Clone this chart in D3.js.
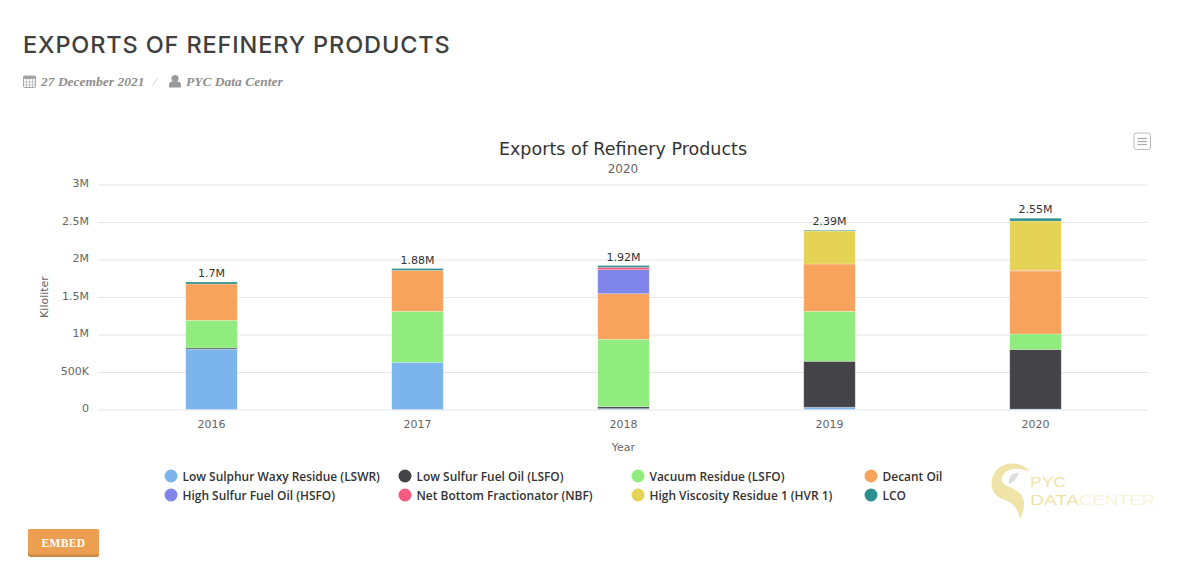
<!DOCTYPE html>
<html>
<head>
<meta charset="utf-8">
<script src="https://cdnjs.cloudflare.com/ajax/libs/d3/7.8.5/d3.min.js"></script>
<style>
  html, body { margin: 0; padding: 0; background: #fff; overflow: hidden; }
  svg { display: block; }
  text { font-family: "DejaVu Sans", sans-serif; }
  .grid line { stroke: #e6e6e6; }
  .tick text { fill: #666; font-size: 11px; }
</style>
</head>
<body>
<svg width="1177" height="563"></svg>
<script>
var years = ['2016', '2017', '2018', '2019', '2020'];

var seriesNames = [
  'Low Sulphur Waxy Residue (LSWR)', 'Low Sulfur Fuel Oil (LSFO)', 'Vacuum Residue (LSFO)', 'Decant Oil',
  'High Sulfur Fuel Oil (HSFO)', 'Net Bottom Fractionator (NBF)', 'High Viscosity Residue 1 (HVR 1)', 'LCO'
];
var seriesColors = ['#7cb5ec', '#434348', '#90ed7d', '#f7a35c', '#8085e9', '#f15c80', '#e4d354', '#2b908f'];

// kiloliter
var lswr = [805000, 630000, 12000, 30000, 6000];
var lsfo = [15000, 0, 25000, 613000, 794000];
var vacuum = [369000, 679000, 899000, 666000, 207000];
var decant = [484000, 547000, 608000, 631000, 840000];
var hsfo = [0, 0, 320000, 0, 0];
var nbf = [0, 0, 32000, 0, 8000];
var hvr = [0, 0, 0, 440000, 658000];
var lco = [27000, 24000, 24000, 10000, 37000];

var yTicks = [0, 500000, 1000000, 1500000, 2000000, 2500000, 3000000];
var yLabels = ['0', '500K', '1M', '1.5M', '2M', '2.5M', '3M'];
var totalLabels = ['1.7M', '1.88M', '1.92M', '2.39M', '2.55M'];

var allSeries = [lswr, lsfo, vacuum, decant, hsfo, nbf, hvr, lco];

var svg = d3.select('svg');

// page header
svg.append('text')
   .attr('x', 23).attr('y', 53)
   .attr('font-size', 23.5)
   .attr('font-weight', 500)
   .attr('letter-spacing', 0.87)
   .attr('fill', '#3f4040')
   .style('font-family', 'Inter, Lato, sans-serif')
   .text('EXPORTS OF REFINERY PRODUCTS');

var meta = svg.append('g').attr('fill', '#999');
// calendar icon
meta.append('rect').attr('x', 23.5).attr('y', 76).attr('width', 12).attr('height', 11.5).attr('rx', 1)
    .attr('fill', 'none').attr('stroke', '#a5a5a5');
meta.append('rect').attr('x', 23.5).attr('y', 76).attr('width', 12).attr('height', 3).attr('fill', '#a5a5a5');
[26, 29, 32].forEach(function(x) {
  meta.append('line').attr('x1', x + 0.5).attr('x2', x + 0.5).attr('y1', 79).attr('y2', 87).attr('stroke', '#c4c4c4');
});
[82, 85].forEach(function(y) {
  meta.append('line').attr('x1', 24).attr('x2', 35).attr('y1', y).attr('y2', y).attr('stroke', '#c4c4c4');
});
// person icon
meta.append('circle').attr('cx', 175).attr('cy', 78.5).attr('r', 3.6);
meta.append('path').attr('d', 'M169 87.5v-2.5q0-3.5 3.5-3.5h5q3.5 0 3.5 3.5v2.5z');

var metaStyle = function(sel) {
  sel.attr('y', 86).attr('font-size', 13.5).attr('font-weight', 'bold').attr('font-style', 'italic')
     .attr('fill', '#8f8f8f').style('font-family', '"Liberation Serif", serif');
};
meta.append('text').attr('x', 41).call(metaStyle).text('27 December 2021');
meta.append('text').attr('x', 153).call(metaStyle).attr('fill', '#ccc').attr('font-weight', 'normal').text('/');
meta.append('text').attr('x', 186).call(metaStyle).text('PYC Data Center');

// chart titles
svg.append('text')
   .attr('x', 623).attr('y', 155)
   .attr('text-anchor', 'middle')
   .attr('font-size', 17.5)
   .attr('fill', '#333')
   .text('Exports of Refinery Products');

svg.append('text')
   .attr('x', 623).attr('y', 173)
   .attr('text-anchor', 'middle')
   .attr('font-size', 12)
   .attr('fill', '#666')
   .text('2020');

// export button
var menu = svg.append('g');
menu.append('rect').attr('x', 1134).attr('y', 133).attr('width', 16.5).attr('height', 16.5).attr('rx', 2.5)
    .attr('fill', '#fff').attr('stroke', '#bbb');
[138, 141, 144].forEach(function(y) {
  menu.append('line').attr('x1', 1137.5).attr('x2', 1147).attr('y1', y + 0.5).attr('y2', y + 0.5)
      .attr('stroke', '#aaa').attr('stroke-width', 1.2);
});

var xScale = d3.scaleBand()
               .domain(years)
               .range([108.5, 1138.5])
               .paddingInner(0.75)
               .paddingOuter(0.375);

var yScale = d3.scaleLinear()
               .domain([0, 3000000])
               .range([409.5, 184.5]);

var rows = years.map(function(year, i) {
  var row = { year: year };
  allSeries.forEach(function(values, s) { row[s] = values[i]; });
  return row;
});

var stacked = d3.stack().keys(d3.range(allSeries.length))(rows);

// grid
var yAxis = d3.axisLeft(yScale)
              .tickValues(yTicks)
              .tickSize(-1050)
              .tickPadding(9)
              .tickFormat(function(d, i) { return yLabels[i]; });

svg.append('g')
   .attr('class', 'grid')
   .attr('transform', 'translate(98, 0)')
   .call(yAxis)
   .call(function(g) {
     g.select('.domain').remove();
     g.selectAll('text').attr('dy', '0.22em');
   });

var xAxis = d3.axisBottom(xScale).tickSize(0).tickPadding(11);

svg.append('g')
   .attr('class', 'x-axis')
   .attr('transform', 'translate(0, 409.5)')
   .call(xAxis)
   .call(function(g) { g.select('.domain').remove(); });

svg.append('text')
   .attr('transform', 'translate(48, 297) rotate(-90)')
   .attr('text-anchor', 'middle')
   .attr('font-size', 11)
   .attr('fill', '#666')
   .text('Kiloliter');

svg.append('text')
   .attr('x', 623.5).attr('y', 451)
   .attr('text-anchor', 'middle')
   .attr('font-size', 11)
   .attr('fill', '#666')
   .text('Year');

// bars
var layers = svg.selectAll('.layer')
  .data(stacked)
  .enter()
  .append('g')
    .classed('layer', true)
    .attr('fill', function(d, i) { return seriesColors[i]; });

layers.selectAll('rect')
  .data(function(d) { return d.filter(function(v) { return v[1] > v[0]; }); })
  .enter()
  .append('rect')
    .attr('x', function(d) { return xScale(d.data.year); })
    .attr('width', xScale.bandwidth())
    .attr('y', function(d) { return yScale(d[1]); })
    .attr('height', function(d) { return yScale(d[0]) - yScale(d[1]); })
    .attr('stroke', 'rgba(255,255,255,0.3)')
    .attr('stroke-width', 0.8);

// totals above the stacks
svg.selectAll('.total')
  .data(years)
  .enter()
  .append('text')
    .classed('total', true)
    .attr('x', function(d) { return xScale(d) + xScale.bandwidth() / 2; })
    .attr('y', function(d, i) {
      return yScale(d3.sum(allSeries, function(values) { return values[i]; })) - 5;
    })
    .attr('text-anchor', 'middle')
    .attr('font-size', 11)
    .attr('fill', '#333')
    .text(function(d, i) { return totalLabels[i]; });

// legend
var legendX = [171, 405, 638, 871];
var legendY = [476, 495];

var legend = svg.selectAll('.legend-item')
  .data(seriesNames)
  .enter()
  .append('g')
    .classed('legend-item', true)
    .attr('transform', function(d, i) {
      return 'translate(' + legendX[i % 4] + ',' + legendY[Math.floor(i / 4)] + ')';
    });

legend.append('circle')
      .attr('r', 6.5)
      .attr('fill', function(d, i) { return seriesColors[i]; });

legend.append('text')
      .attr('x', 11.5)
      .attr('y', 4.5)
      .attr('font-size', 11.95)
      .attr('font-weight', 600)
      .attr('fill', '#333')
      .style('font-family', '"Open Sans", sans-serif')
      .text(function(d) { return d; });

// watermark logo
var logo = svg.append('g').attr('fill', '#efe3a8');
logo.append('path')
    .attr('d', 'M1030 472C1022 461 1000 459 993 476C988 490 997 498 1005 500C1012 502 1018 508 1020 519C1025 508 1027 498 1017 491C1008 485 1000 486 1002 477C1004 470 1016 465 1030 472Z');
logo.append('path')
    .attr('d', 'M1009 484C1008 477 1013 472 1019 473C1017 478 1014 482 1009 484Z')
    .attr('fill', '#ddd');

var logoText = function(sel, x, y, len, color) {
  sel.attr('x', x).attr('y', y)
     .attr('font-size', 15)
     .attr('textLength', len)
     .attr('lengthAdjust', 'spacingAndGlyphs')
     .attr('fill', color)
     .style('font-family', '"Liberation Sans", sans-serif');
};
logo.append('text').call(logoText, 1030, 487, 36, '#efe3a8').text('PYC');
logo.append('text').call(logoText, 1030, 505, 49, '#efe3a8').text('DATA');
logo.append('text').call(logoText, 1079, 505, 76, '#f8f3d8').text('CENTER');

// embed button
var embed = svg.append('g');
embed.append('rect').attr('x', 28).attr('y', 529).attr('width', 71).attr('height', 28).attr('rx', 2.5).attr('fill', '#c98a45');
embed.append('rect').attr('x', 28).attr('y', 529).attr('width', 71).attr('height', 25.5).attr('rx', 2.5).attr('fill', '#ec9f50');
embed.append('text')
     .attr('x', 63.5).attr('y', 547)
     .attr('text-anchor', 'middle')
     .attr('font-size', 11.5)
     .attr('font-weight', 'bold')
     .attr('letter-spacing', 0.4)
     .attr('fill', '#fff')
     .style('font-family', '"Liberation Serif", serif')
     .text('EMBED');
</script>
</body>
</html>
